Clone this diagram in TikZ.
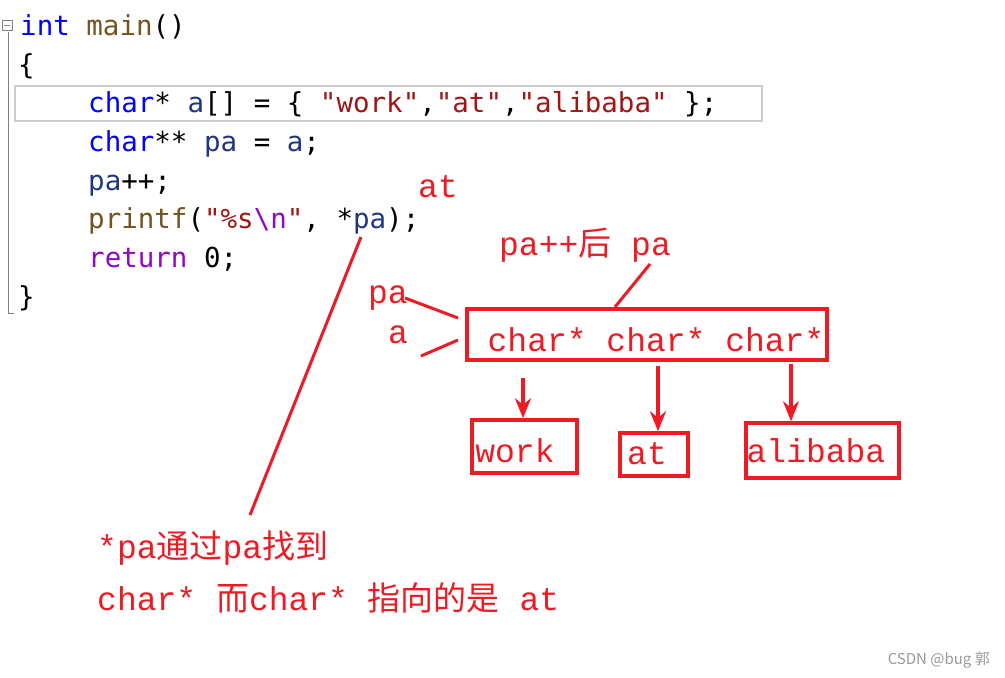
\documentclass[tikz,border=0pt]{standalone}
\usepackage{fontspec}
\setmonofont{DejaVu Sans Mono}
\newfontfamily\redf{Liberation Mono}
\newfontfamily\cjk{Noto Sans CJK SC}
\usetikzlibrary{arrows.meta}
\definecolor{kw}{RGB}{0,0,255}
\definecolor{fn}{RGB}{116,83,31}
\definecolor{st}{RGB}{163,21,21}
\definecolor{vr}{RGB}{31,55,127}
\definecolor{pu}{RGB}{143,8,196}
\definecolor{rd}{RGB}{237,28,36}
\begin{document}
\begin{tikzpicture}[x=1pt,y=-1pt,
 code/.style={anchor=base west,inner sep=0,font=\ttfamily\fontsize{27.5}{27.5}\selectfont},
 ann/.style={text=rd,inner sep=0,font=\redf\fontsize{33}{33}\selectfont},
 rbox/.style={draw=rd,line width=3.5pt},
 rl/.style={draw=rd,line width=3pt},
 rarr/.style={draw=rd,line width=4pt,-{Stealth[open,length=20pt,width=16pt]}}]
\useasboundingbox (0,0) rectangle (1005,678);
\fill[white] (0,0) rectangle (1005,678);
% highlight and gutter
\draw[gray!40,line width=1.5pt] (15,86) rectangle (762,121);
\draw[gray,line width=1pt] (8,32) -- (8,313) -- (14,313);
\draw[gray,line width=0.8pt,fill=white] (2,20) rectangle (12,30);
\draw[gray,line width=0.8pt] (4,25) -- (10,25);
% code
\node[code] (l1) at (20,35) {\textcolor{kw}{int} \textcolor{fn}{main}()};
\node[code] (l2) at (18,74) {\{};
\node[code] (l3) at (88,112) {\textcolor{kw}{char}* \textcolor{vr}{a}[] = \{ \textcolor{st}{"work"},\textcolor{st}{"at"},\textcolor{st}{"alibaba"} \};};
\node[code] (l4) at (88,151) {\textcolor{kw}{char}** \textcolor{vr}{pa} = \textcolor{vr}{a};};
\node[code] (l5) at (88,190) {\textcolor{vr}{pa}++;};
\node[code] (l6) at (88,228) {\textcolor{fn}{printf}(\textcolor{st}{"\%s}\textcolor{pu}{\textbackslash n}\textcolor{st}{"}, *\textcolor{vr}{pa});};
\node[code] (l7) at (88,267) {\textcolor{pu}{return} 0;};
\node[code] (l8) at (18,306) {\}};
% annotations
\node[ann] (at1) at (438,187) {at};
\node[ann] (pp) at (585,245) {pa++{\cjk 后} pa};
\node[ann] (pa) at (388,298) {pa};
\node[ann] (a) at (398,335) {a};
\node[rbox,minimum width=360pt,minimum height=51pt,inner sep=0] (arr) at (647,334.5) {};
\node[ann] (cc) at (656,340) {char* char* char*};
\node[rbox,minimum width=105pt,minimum height=53pt,inner sep=0] (w) at (524.5,446.5) {};
\node[ann] at (515,451) {work};
\node[rbox,minimum width=68pt,minimum height=43pt,inner sep=0] (t) at (654,454.5) {};
\node[ann] at (647,454) {at};
\node[rbox,minimum width=153pt,minimum height=55pt,inner sep=0] (b) at (822.5,450.5) {};
\node[ann] at (816,451) {alibaba};
\coordinate (c1) at (615,307); \coordinate (c2) at (650,264);
\draw[rl] (c1) -- (c2);
\coordinate (p1) at (405,298); \coordinate (p2) at (458,318);
\draw[rl] (p1) -- (p2);
\coordinate (a1) at (421,356); \coordinate (a2) at (458,340);
\draw[rl] (a1) -- (a2);
\draw[rarr] (523,378) -- (w.north -| 523,0);
\draw[rarr] (658,366) -- (t.north -| 658,0);
\draw[rarr] (791,364) -- (b.north -| 791,0);
\coordinate (s1) at (361,237); \coordinate (s2) at (250,515);
\draw[rl] (s1) -- (s2);
\node[ann,anchor=base west] (t1) at (97,558) {*pa{\cjk 通过}pa{\cjk 找到}};
\node[ann,anchor=base west] (t2) at (97,610) {char* {\cjk 而}char* {\cjk 指向的是} at};
\node[anchor=base east,inner sep=0,text=gray!80,font=\cjk\fontsize{15}{15}\selectfont] (wm) at (990,664) {CSDN @bug 郭};
\end{tikzpicture}
\end{document}
